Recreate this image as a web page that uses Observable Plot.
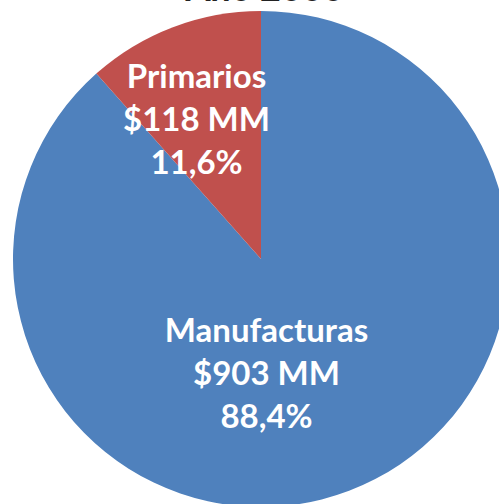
<!DOCTYPE html>
<html>
<head>
<meta charset="utf-8">
<script src="https://cdn.jsdelivr.net/npm/d3@7"></script>
<script src="https://cdn.jsdelivr.net/npm/@observablehq/plot@0.6"></script>
<style>
  html, body { margin: 0; padding: 0; background: #fff; overflow: hidden; }
</style>
</head>
<body>
<div id="chart"></div>
<script>
// Data
const categories = ["Manufacturas", "Primarios"];
const values = [903, 118];          // millones (MM)
const colors = ["#4F81BD", "#C0504D"];
const title = "Año 2000";

// Layout constants
const W = 499, H = 504;
const CX = 261, CY = 259, R = 248;
const labelPos = [[266, 371], [196, 117]];

const total = d3.sum(values);
const data = categories.map((c, i) => ({
  category: c,
  value: values[i],
  pct: (values[i] / total * 100).toFixed(1).replace(".", ",") + "%",
  lx: labelPos[i][0],
  ly: labelPos[i][1]
}));

const chart = Plot.plot({
  width: W,
  height: H,
  margin: 0,
  x: {domain: [0, W], range: [0, W], axis: null},
  y: {domain: [0, H], range: [0, H], axis: null},
  color: {domain: categories, range: colors},
  style: {background: "#fff", fontFamily: "Lato, 'Open Sans', sans-serif"},
  marks: [
    Plot.dot(data, {
      x: () => CX,
      y: () => CY,
      fill: "category",
      render(index, scales, vals) {
        const g = d3.create("svg:g");
        const pie = d3.pie().sort(null).value(i => data[i].value)(index);
        const arc = d3.arc().innerRadius(0).outerRadius(R);
        g.selectAll("path").data(pie).join("path")
          .attr("transform", a => `translate(${vals.x[a.data]},${vals.y[a.data]})`)
          .attr("d", arc)
          .attr("fill", a => vals.fill[a.data]);
        return g.node();
      }
    }),
    Plot.text(data, {
      x: "lx",
      y: "ly",
      text: d => `${d.category}\n$${d.value} MM\n${d.pct}`,
      fill: "white",
      fontSize: 33,
      fontWeight: "bold",
      lineHeight: 1.3,
      lineAnchor: "middle",
      textAnchor: "middle"
    }),
    Plot.text([title], {
      x: () => 264,
      y: () => 0.5,
      text: d => d,
      fill: "#222",
      fontSize: 36,
      fontWeight: "bold",
      lineAnchor: "bottom",
      textAnchor: "middle"
    })
  ]
});
document.getElementById("chart").appendChild(chart);
</script>
</body>
</html>
